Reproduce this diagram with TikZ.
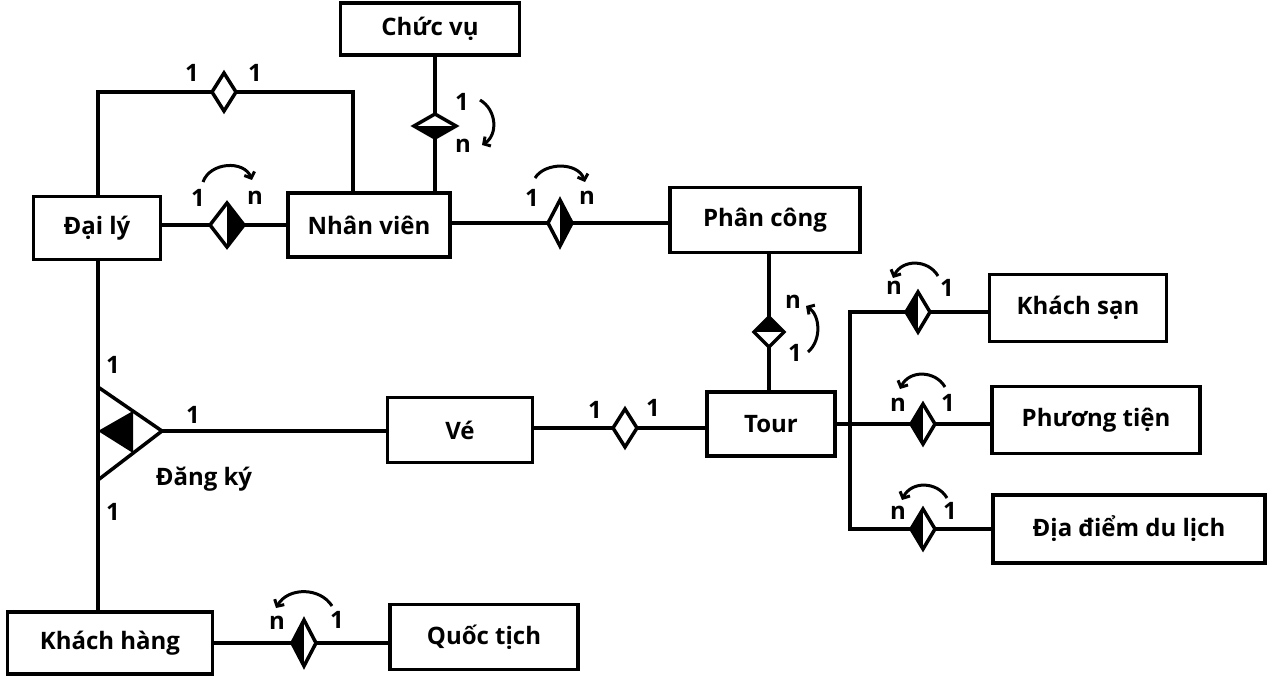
\documentclass[tikz,border=0pt]{standalone}
\usepackage{fontspec}
\setmainfont{Open Sans}
\usetikzlibrary{arrows.meta}
\begin{document}
\begin{tikzpicture}[x=1pt,y=-1pt,
  ent/.style={draw,line width=3.5pt,inner sep=0pt,font=\fontsize{24}{29}\selectfont\bfseries},
  ln/.style={line width=3.5pt},
  lbl/.style={font=\fontsize{24}{29}\selectfont\bfseries,inner sep=0pt},
  arr/.style={line width=3pt,-{Straight Barb[length=5pt,width=11pt]}},
  pics/hdia/.style n args={4}{code={
    \fill[#3] (0,-#2) -- (-#1,0) -- (0,#2) -- cycle;
    \fill[#4] (0,-#2) -- (#1,0) -- (0,#2) -- cycle;
    \draw[line width=3.5pt,line join=miter] (-#1,0) -- (0,-#2) -- (#1,0) -- (0,#2) -- cycle;}},
  pics/vdia/.style n args={4}{code={
    \fill[#3] (-#1,0) -- (0,-#2) -- (#1,0) -- cycle;
    \fill[#4] (-#1,0) -- (0,#2) -- (#1,0) -- cycle;
    \draw[line width=3.5pt,line join=miter] (-#1,0) -- (0,-#2) -- (#1,0) -- (0,#2) -- cycle;}}
]
\fill[white] (0,0) rectangle (1270,685);
\useasboundingbox (0,0) rectangle (1270,685);

% entities
\node[ent,minimum width=179pt,minimum height=52pt] (cv) at (430,29) {Chức vụ};
\node[ent,minimum width=127pt,minimum height=63pt] (dl) at (97,228) {Đại lý};
\node[ent,minimum width=162pt,minimum height=64pt] (nv) at (369,225) {Nhân viên};
\node[ent,minimum width=190pt,minimum height=65pt] (pc) at (765,220) {Phân công};
\node[ent,minimum width=128pt,minimum height=64pt] (tour) at (771,424) {Tour};
\node[ent,minimum width=145pt,minimum height=65pt] (ve) at (460,430) {Vé};
\node[ent,minimum width=205pt,minimum height=62pt] (kh) at (110,643) {Khách hàng};
\node[ent,minimum width=188pt,minimum height=65pt] (qt) at (484,637) {Quốc tịch};
\node[ent,minimum width=177pt,minimum height=67pt] (ks) at (1078,308) {Khách sạn};
\node[ent,minimum width=208pt,minimum height=67pt] (pt) at (1096,420) {Phương tiện};
\node[ent,minimum width=272pt,minimum height=68pt] (dd) at (1129,529) {Địa điểm du lịch};

% coordinates
\coordinate (d1) at (227,225);
\coordinate (la) at (98,92);
\coordinate (lb) at (353,92);
\coordinate (d2) at (224,92);
\coordinate (d3) at (435,126);
\coordinate (d4) at (560,223);
\coordinate (d5) at (769,332);
\coordinate (d6) at (625,428);
\coordinate (bks) at (850,312);
\coordinate (bpt) at (850,424);
\coordinate (bdd) at (850,529);
\coordinate (dks) at (918,312);
\coordinate (dpt) at (923,424);
\coordinate (ddd) at (923,529);
\coordinate (dqt) at (304,643);
\coordinate (vx) at (98,0);
\coordinate (t1) at (98,387);
\coordinate (t2) at (162,431);
\coordinate (t3) at (98,480);

% connectors
\draw[ln] (dl.east |- d1) -- (nv.west |- d1);
\draw[ln,line join=miter] (dl.north -| la) -- (la) -- (lb) -- (nv.north -| lb);
\draw[ln] (cv.south -| d3) -- (nv.north -| d3);
\draw[ln] (nv.east |- d4) -- (pc.west |- d4);
\draw[ln] (pc.south -| d5) -- (tour.north -| d5);
\draw[ln] (ve.east |- d6) -- (tour.west |- d6);
\draw[ln] (tour.east |- bpt) -- (bpt);
\draw[ln,line join=miter] (ks.west |- bks) -- (bks) -- (bdd) -- (dd.west |- bdd);
\draw[ln] (bpt) -- (pt.west |- bpt);
\draw[ln] (dl.south -| vx) -- (kh.north -| vx);
\draw[ln] (t2) -- (ve.west |- t2);
\draw[ln] (kh.east |- dqt) -- (qt.west |- dqt);

% ternary relationship Dang ky
\draw[ln,fill=white,line join=miter] (t1) -- (t2) -- (t3) -- cycle;
\fill (98,431) -- (133,411) -- (133,453) -- cycle;
\draw[ln] (t1) -- (t3);

% diamonds
\pic at (d1) {hdia={17}{22}{white}{black}};
\pic at (d2) {hdia={12}{19}{white}{white}};
\pic at (d3) {vdia={21}{12}{white}{black}};
\pic at (d4) {hdia={12}{23}{white}{black}};
\pic at (d5) {vdia={15}{15}{black}{white}};
\pic at (d6) {hdia={12}{19}{white}{white}};
\pic at (dks) {hdia={12}{20}{black}{white}};
\pic at (dpt) {hdia={12}{20}{black}{white}};
\pic at (ddd) {hdia={12}{20}{black}{white}};
\pic at (dqt) {hdia={12}{23}{black}{white}};

% labels
\node[lbl] (l1) at (192,73) {1};
\node[lbl] (l2) at (255,73) {1};
\node[lbl] (l3) at (198,198) {1};
\node[lbl] (l4) at (255,198) {n};
\node[lbl] (l5) at (462,102) {1};
\node[lbl] (l6) at (463,146) {n};
\node[lbl] (l7) at (532,198) {1};
\node[lbl] (l8) at (587,198) {n};
\node[lbl] (l9) at (793,302) {n};
\node[lbl] (l10) at (795,353) {1};
\node[lbl] (l11) at (595,410) {1};
\node[lbl] (l12) at (653,408) {1};
\node[lbl] (l13) at (113,365) {1};
\node[lbl] (l14) at (193,415) {1};
\node[lbl] (l15) at (113,512) {1};
\node[ent,draw=none] (dk) at (204,479) {Đăng ký};
\node[lbl] (l16) at (277,623) {n};
\node[lbl] (l17) at (337,620) {1};
\node[lbl] (l18) at (894,288) {n};
\node[lbl] (l19) at (947,288) {1};
\node[lbl] (l20) at (898,405) {n};
\node[lbl] (l21) at (948,403) {1};
\node[lbl] (l22) at (898,513) {n};
\node[lbl] (l23) at (950,511) {1};

% cardinality arrows
\coordinate (a1s) at (203,182); \coordinate (a1e) at (252,180);
\draw[arr] (a1s) .. controls (210,162) and (244,160) .. (a1e);
\coordinate (a2s) at (480,100); \coordinate (a2e) at (482,145);
\draw[arr] (a2s) .. controls (497,110) and (498,135) .. (a2e);
\coordinate (a3s) at (535,178); \coordinate (a3e) at (585,182);
\draw[arr] (a3s) .. controls (545,162) and (578,162) .. (a3e);
\coordinate (a4s) at (808,352); \coordinate (a4e) at (806,306);
\draw[arr] (a4s) .. controls (822,340) and (820,315) .. (a4e);
\coordinate (a5s) at (938,276); \coordinate (a5e) at (893,278);
\draw[arr] (a5s) .. controls (928,259) and (902,259) .. (a5e);
\coordinate (a6s) at (945,387); \coordinate (a6e) at (900,389);
\draw[arr] (a6s) .. controls (935,370) and (909,370) .. (a6e);
\coordinate (a7s) at (947,498); \coordinate (a7e) at (902,500);
\draw[arr] (a7s) .. controls (937,481) and (911,481) .. (a7e);
\coordinate (a8s) at (332,606); \coordinate (a8e) at (276,608);
\draw[arr] (a8s) .. controls (320,587) and (288,587) .. (a8e);
\end{tikzpicture}
\end{document}
